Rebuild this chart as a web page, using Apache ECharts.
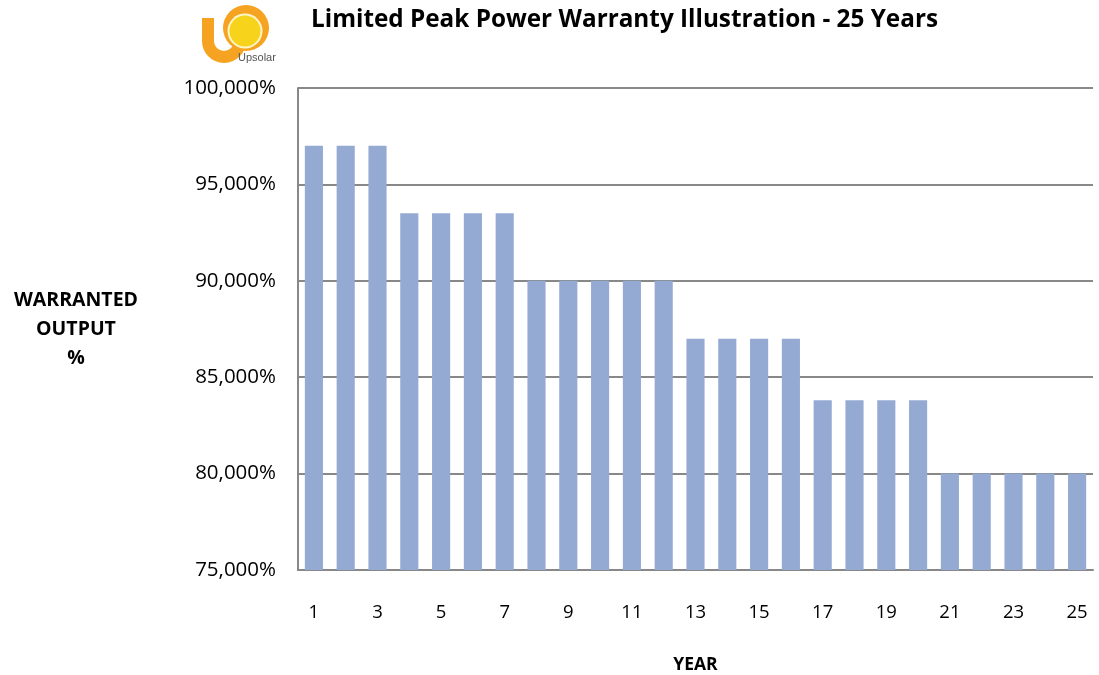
<!DOCTYPE html>
<html><head><meta charset="utf-8">
<script src="https://cdn.jsdelivr.net/npm/echarts@6/dist/echarts.min.js"></script>
<style>html,body{margin:0;padding:0;background:#fff}#c{width:1099px;height:675px}</style>
</head><body><div id="c"></div>
<script>
const years = ['1','2','3','4','5','6','7','8','9','10','11','12','13','14','15','16','17','18','19','20','21','22','23','24','25'];
const warranted = [97,97,97,93.5,93.5,93.5,93.5,90,90,90,90,90,87,87,87,87,83.8,83.8,83.8,83.8,80,80,80,80,80];
const yTicks = [75,80,85,90,95,100];
const titleText = 'Limited Peak Power Warranty Illustration - 25 Years';

const chart = echarts.init(document.getElementById('c'), null, {renderer:'canvas'});
const font = "'Open Sans', 'Liberation Sans', sans-serif";
chart.setOption({
  animation:false,
  backgroundColor:'#fff',
  title:{text:titleText,left:306,top:3,textStyle:{fontFamily:font,fontWeight:'bold',fontSize:24.3,color:'#000'}},
  grid:{left:298,right:6,top:88,bottom:105,outerBoundsMode:'none',containLabel:false},
  xAxis:{type:'category',data:years,
    axisLine:{lineStyle:{color:'#888',width:2}},axisTick:{show:false},
    axisLabel:{interval:1,fontFamily:font,fontSize:18.5,color:'#000',margin:33},
    name:'YEAR',nameLocation:'middle',nameGap:86,
    nameTextStyle:{fontFamily:font,fontWeight:'bold',fontSize:17.5,color:'#000'}},
  yAxis:{type:'value',min:75,max:100,interval:5,
    axisLine:{show:true,lineStyle:{color:'#888',width:2}},axisTick:{show:false},
    splitLine:{lineStyle:{color:'#888',width:2}},
    axisLabel:{fontFamily:font,fontSize:20.5,color:'#000',margin:22,
      formatter:v=>yTicks.includes(v)?v+',000%':''}},
  series:[{type:'bar',data:warranted,barCategoryGap:'43%',
    itemStyle:{color:'#94aad3'}}],
  graphic:[
    {type:'text',x:76,y:286,style:{text:'WARRANTED\nOUTPUT\n%',lineHeight:29,
      font:"bold 19.5px 'Open Sans', sans-serif",fill:'#000',align:'center'}},
    {type:'group',x:198,y:4,children:[
      {type:'rect',shape:{x:4,y:14,width:12,height:24},style:{fill:'#f5a321'}},
      {type:'arc',shape:{cx:26,cy:37,r:16,startAngle:0,endAngle:Math.PI,clockwise:true},style:{stroke:'#f5a321',lineWidth:12,fill:null}},
      {type:'circle',shape:{cx:48,cy:24,r:23},style:{fill:'#f5a321'}},
      {type:'circle',shape:{cx:47,cy:27,r:17.5},style:{fill:'#fff6c8'}},
      {type:'circle',shape:{cx:47,cy:27,r:15.5},style:{fill:'#f8d31c'}},
      {type:'text',x:40,y:48,style:{text:'Upsolar',font:"11px 'Liberation Sans Narrow', 'Liberation Sans', sans-serif",fill:'#555'}}
    ]}
  ]
});
</script></body></html>
